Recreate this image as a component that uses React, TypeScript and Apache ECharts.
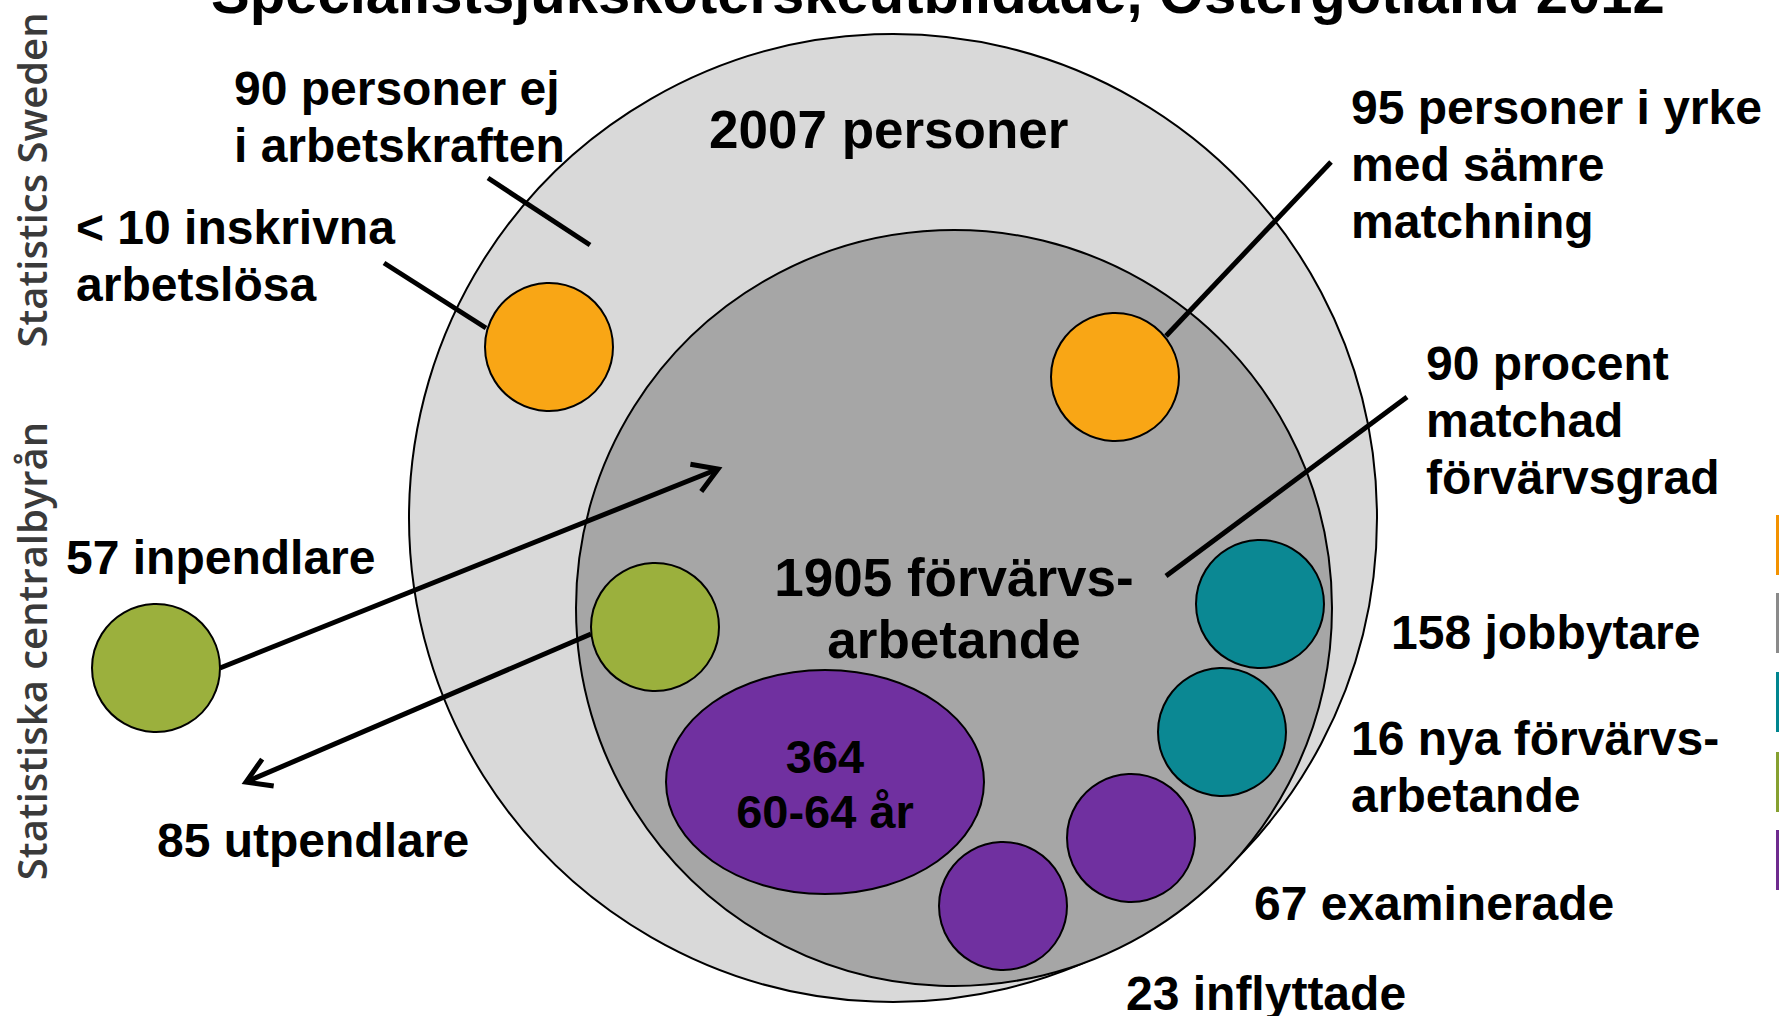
import React, { useEffect, useRef } from "react";
import * as echarts from "echarts";

// ---- texts / values ----
const TITLE = "Specialistsjuksköterskeutbildade, Östergötland 2012";
const totalText = ["2007 personer"];
const employedText = ["1905 förvärvs-", "arbetande"];
const olderText = ["364", "60-64 år"];
const notInLabourText = ["90 personer ej", "i arbetskraften"];
const unemployedText = ["< 10 inskrivna", "arbetslösa"];
const mismatchText = ["95 personer i yrke", "med sämre", "matchning"];
const matchText = ["90 procent", "matchad", "förvärvsgrad"];
const inCommuteText = ["57 inpendlare"];
const outCommuteText = ["85 utpendlare"];
const jobChangeText = ["158 jobbytare"];
const newEmployedText = ["16 nya förvärvs-", "arbetande"];
const graduatesText = ["67 examinerade"];
const movedInText = ["23 inflyttade"];
const brandText = ["Statistics Sweden", "Statistiska centralbyrån"];

// ---- colours ----
const C_OUTER = "#d9d9d9";
const C_INNER = "#a6a6a6";
const C_ORANGE = "#f9a615";
const C_GREEN = "#9bb03d";
const C_TEAL = "#0b8893";
const C_PURPLE = "#7030a0";
const LEGEND_COLORS = ["#f39200", "#8a8a8a", "#00858f", "#86a030", "#6e2a8e"];

const FONT = '"Liberation Sans", Arial, Helvetica, sans-serif';

function textBlock(lines: string[], x: number, baseline: number, size: number, gap: number, align = "left") {
  return lines.map((t, i) => ({
    type: "text",
    z: 50,
    style: {
      text: t,
      x,
      y: baseline + i * gap - 0.3465 * size,
      font: `bold ${size}px ${FONT}`,
      fill: "#000",
      textAlign: align,
      align,
      textVerticalAlign: "middle",
      verticalAlign: "middle",
    },
  }));
}

function circ(cx: number, cy: number, r: number, fill: string, z = 10) {
  return { type: "circle", z, shape: { cx, cy, r }, style: { fill, stroke: "#000", lineWidth: 2 } };
}

function seg(x1: number, y1: number, x2: number, y2: number) {
  return { type: "line", z: 40, shape: { x1, y1, x2, y2 }, style: { stroke: "#000", lineWidth: 5 } };
}

function arrow(x1: number, y1: number, x2: number, y2: number) {
  const a = Math.atan2(y2 - y1, x2 - x1);
  const L = 28, s = 0.55;
  const p1 = [x2 - L * Math.cos(a - s), y2 - L * Math.sin(a - s)];
  const p2 = [x2 - L * Math.cos(a + s), y2 - L * Math.sin(a + s)];
  return [
    seg(x1, y1, x2 - 2 * Math.cos(a), y2 - 2 * Math.sin(a)),
    {
      type: "polyline",
      z: 40,
      shape: { points: [p1, [x2, y2], p2] },
      style: { stroke: "#000", lineWidth: 5, fill: null, lineJoin: "miter" },
    },
  ];
}

export default function App() {
  const ref = useRef<HTMLDivElement>(null);
  useEffect(() => {
    if (!ref.current) return;
    const chart = echarts.init(ref.current, undefined, { renderer: "svg" });
    const R = 64;
    const elements: any[] = [
      { type: "rect", z: 0, shape: { x: 0, y: 0, width: 1779, height: 1016 }, style: { fill: "#fff" } },
      circ(893, 518, 484, C_OUTER, 1),
      circ(954, 608, 378, C_INNER, 2),
      circ(549, 347, R, C_ORANGE),
      circ(1115, 377, R, C_ORANGE),
      circ(156, 668, R, C_GREEN),
      circ(655, 627, R, C_GREEN),
      circ(1260, 604, R, C_TEAL),
      circ(1222, 732, R, C_TEAL),
      circ(1131, 838, R, C_PURPLE),
      circ(1003, 906, R, C_PURPLE),
      { type: "ellipse", z: 10, shape: { cx: 825, cy: 782, rx: 159, ry: 112 }, style: { fill: C_PURPLE, stroke: "#000", lineWidth: 2 } },
      seg(488, 178, 590, 245),
      seg(384, 263, 486, 328),
      seg(1331, 162, 1166, 336),
      seg(1407, 397, 1166, 576),
      ...arrow(220, 668, 718, 469),
      ...arrow(591, 634, 246, 782),
      ...textBlock([TITLE], 938, 13, 58, 0, "center"),
      ...textBlock(notInLabourText, 234, 105, 48, 57),
      ...textBlock(unemployedText, 76, 244, 48, 57),
      ...textBlock(totalText, 709, 148, 53, 0),
      ...textBlock(mismatchText, 1351, 124, 48, 57),
      ...textBlock(matchText, 1426, 380, 48, 57),
      ...textBlock(inCommuteText, 66, 574, 48, 0),
      ...textBlock(outCommuteText, 157, 857, 48, 0),
      ...textBlock(employedText, 954, 596, 53, 62, "center"),
      ...textBlock(olderText, 825, 773, 47, 55, "center"),
      ...textBlock(jobChangeText, 1391, 649, 48, 0),
      ...textBlock(newEmployedText, 1351, 755, 48, 57),
      ...textBlock(graduatesText, 1254, 920, 48, 0),
      ...textBlock(movedInText, 1126, 1010, 48, 0),
      {
        type: "text",
        z: 50,
        x: 31,
        y: 180,
        rotation: Math.PI / 2,
        style: {
          text: brandText[0],
          x: 0,
          y: 0,
          font: `600 40px "Open Sans", sans-serif`,
          fill: "#3a3a3a",
          textAlign: "center",
          align: "center",
          textVerticalAlign: "middle",
          verticalAlign: "middle",
        },
      },
      {
        type: "text",
        z: 50,
        x: 31,
        y: 651,
        rotation: Math.PI / 2,
        style: {
          text: brandText[1],
          x: 0,
          y: 0,
          font: `600 40px "Open Sans", sans-serif`,
          fill: "#3a3a3a",
          textAlign: "center",
          align: "center",
          textVerticalAlign: "middle",
          verticalAlign: "middle",
        },
      },
      ...LEGEND_COLORS.map((c, i) => ({
        type: "rect",
        z: 5,
        shape: { x: 1776, y: [515, 593, 672, 752, 830][i], width: 4, height: 60 },
        style: { fill: c },
      })),
    ];
    chart.setOption({ animation: false, graphic: { elements } });
    return () => chart.dispose();
  }, []);
  return <div ref={ref} style={{ position: "absolute", left: 0, top: 0, width: 1779, height: 1016 }} />;
}
